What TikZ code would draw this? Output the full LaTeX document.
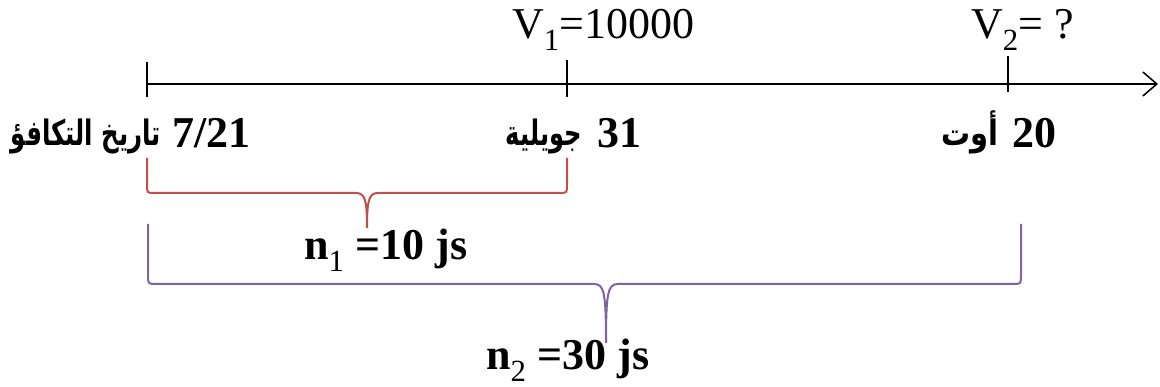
\documentclass[tikz,border=0pt]{standalone}
\usepackage{fontspec}
\usepackage{graphicx}
\setmainfont{Liberation Serif}
\newfontfamily\arabicfont[Script=Arabic]{DejaVu Sans}
\TeXXeTstate=1
\usetikzlibrary{arrows.meta}
\definecolor{bracered}{RGB}{192,80,77}
\definecolor{bracepurple}{RGB}{128,100,162}
\tikzset{
  axisline/.style={line width=1.5pt, black},
  tickline/.style={line width=1.5pt, black},
  redbrace/.style={line width=2pt, bracered},
  purplebrace/.style={line width=2pt, bracepurple},
  numlabel/.style={inner sep=0pt, font=\fontsize{44}{50}\selectfont\bfseries},
  arlabel/.style={inner sep=0pt, font=\fontsize{35}{40}\selectfont\arabicfont\bfseries},
  toplabel/.style={inner sep=0pt, font=\fontsize{44}{50}\selectfont},
}
\begin{document}
\begin{tikzpicture}[x=1pt,y=-1pt]
\useasboundingbox (0,0) rectangle (1160,387);
% axis
\coordinate (start) at (147,84);
\coordinate (end) at (1158,84);
\coordinate (t0a) at (147,62); \coordinate (t0b) at (147,97);
\coordinate (t1a) at (567,60); \coordinate (t1b) at (567,97);
\coordinate (t2a) at (1008,56); \coordinate (t2b) at (1008,92);
\draw[axisline,-{Straight Barb[length=14pt,width=24pt,line width=1.5pt]}] (start) -- (end);
\draw[tickline] (t0a) -- (t0b);
\draw[tickline] (t1a) -- (t1b);
\draw[tickline] (t2a) -- (t2b);
% top labels
\node[toplabel, anchor=base west] (v1) at (512,39) {V\textsubscript{1}=10000};
\node[toplabel, anchor=base west] (v2) at (971,39) {V\textsubscript{2}= ?};
% date labels
\node[numlabel, anchor=base west] (d0) at (172,148) {7/21};
\node[arlabel, anchor=base east] (a0) at (161,146) {\resizebox{150pt}{\height}{\beginR تاريخ التكافؤ\endR}};
\node[numlabel, anchor=base west] (d1) at (597,148) {31};
\node[arlabel, anchor=base east] (a1) at (582,146) {\resizebox{76pt}{\height}{\beginR جويلية\endR}};
\node[numlabel, anchor=base west] (d2) at (1012,148) {20};
\node[arlabel, anchor=base east] (a2) at (999,146) {\resizebox{57pt}{\height}{\beginR أوت\endR}};
% red brace
\draw[redbrace] (147,158) -- (147,185) .. controls (147,193) .. (155,193) -- (356,193)
  .. controls (365,193) and (367,200) .. (367,228);
\draw[redbrace] (567,158) -- (567,185) .. controls (567,193) .. (559,193) -- (378,193)
  .. controls (369,193) and (367,200) .. (367,228);
\node[numlabel, anchor=base west] (n1) at (304,260) {n\textsubscript{\mdseries 1} =10 js};
% purple brace
\draw[purplebrace] (148,224) -- (148,275) .. controls (148,284) .. (156,284) -- (594,284)
  .. controls (604,284) and (606,292) .. (606,343);
\draw[purplebrace] (1021,224) -- (1021,275) .. controls (1021,284) .. (1013,284) -- (618,284)
  .. controls (608,284) and (606,292) .. (606,343);
\node[numlabel, anchor=base west] (n2) at (486,370) {n\textsubscript{\mdseries 2} =30 js};
\end{tikzpicture}
\end{document}
